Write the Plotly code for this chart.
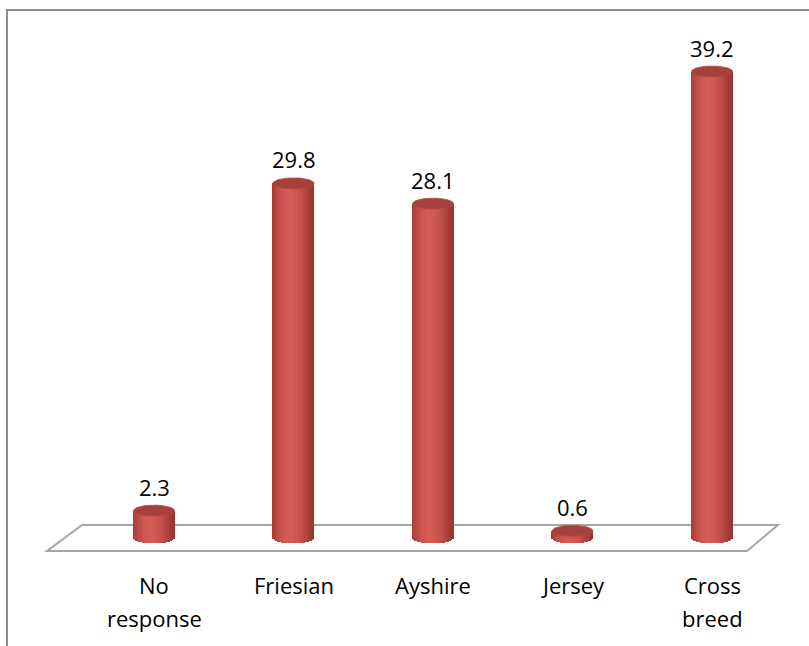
import numpy as np
import plotly.graph_objects as go

# Breed shares (%)
categories = ["No response", "Friesian", "Ayshire", "Jersey", "Cross breed"]
label_lines = [["No", "response"], ["Friesian"], ["Ayshire"], ["Jersey"], ["Cross", "breed"]]
values = [2.3, 29.8, 28.1, 0.6, 39.2]

W, H = 809, 646
X_RANGE = [-1.104, 4.695]
Y_RANGE = [-9.076, 45.21]
px_x = W / (X_RANGE[1] - X_RANGE[0])
px_y = H / (Y_RANGE[1] - Y_RANGE[0])

RX = 20.5 / px_x          # cylinder half-width in x units
RY = 5.5 / px_y           # ellipse half-height in y units
N_STRIPS = 32

xs = np.arange(len(values), dtype=float)
vals = np.array(values, dtype=float)


def shade(u):
    # horizontal shading across the cylinder face, u in [-1, 1]
    dark_l = np.array([168, 58, 55])
    light = np.array([212, 92, 86])
    dark_r = np.array([150, 50, 47])
    peak = -0.15
    if u < peak:
        t = (u + 1) / (peak + 1)
        t = np.sin(t * np.pi / 2)
        c = dark_l + (light - dark_l) * t
    else:
        t = (u - peak) / (1 - peak)
        t = t ** 1.6
        c = light + (dark_r - light) * t
    return "rgb(%d,%d,%d)" % tuple(int(round(v)) for v in c)


fig = go.Figure()

# cylinder bodies built from thin vertical strips with an elliptical bottom
step = 2 * RX / N_STRIPS
for i in range(N_STRIPS):
    u = -1 + (i + 0.5) * 2 / N_STRIPS
    drop = RY * np.sqrt(max(0.0, 1 - u * u))
    fig.add_trace(go.Bar(
        x=xs, y=vals + drop, base=[-drop] * len(vals),
        offset=-RX + i * step - step * 0.15, width=step * 1.3,
        marker=dict(color=shade(u), line=dict(width=0)),
        hoverinfo="skip", showlegend=False,
    ))

# top faces
t = np.linspace(0, 2 * np.pi, 80)
for xc, v in zip(xs, vals):
    fig.add_trace(go.Scatter(
        x=xc + RX * np.cos(t), y=v + RY * np.sin(t),
        mode="lines", fill="toself", fillcolor="rgb(166,64,60)",
        line=dict(color="rgb(180,72,68)", width=0.8),
        hoverinfo="skip", showlegend=False,
    ))

FONT = "'Open Sans', 'Noto Sans', sans-serif"
annotations = []
for xc, v in zip(xs, vals):
    annotations.append(dict(
        x=xc, y=v, xref="x", yref="y", text=f"{v:.1f}", showarrow=False,
        yshift=24, font=dict(family=FONT, size=22, color="#000000"),
    ))
for xc, lines in zip(xs, label_lines):
    for j, line in enumerate(lines):
        annotations.append(dict(
            x=xc, y=1 - (585 + 33 * j) / H, xref="x", yref="paper",
            text=line, showarrow=False, yanchor="middle",
            font=dict(family=FONT, size=22, color="#000000"),
        ))


def paper(x, y):
    return x / W, 1 - y / H


floor = [paper(82, 525), paper(778, 525), paper(747, 551), paper(47, 551)]
floor_path = "M " + " L ".join(f"{a:.5f},{b:.5f}" for a, b in floor) + " Z"
f0 = paper(7, H)
f1 = paper(7, 10)
f2 = paper(W, 10)
frame_path = f"M {f0[0]:.5f},{f0[1]:.5f} L {f1[0]:.5f},{f1[1]:.5f} L {f2[0]:.5f},{f2[1]:.5f}"

fig.update_layout(
    width=W, height=H,
    margin=dict(l=0, r=0, t=0, b=0),
    paper_bgcolor="white", plot_bgcolor="white",
    barmode="overlay", bargap=0,
    xaxis=dict(range=X_RANGE, visible=False, fixedrange=True),
    yaxis=dict(range=Y_RANGE, visible=False, fixedrange=True),
    annotations=annotations,
    shapes=[
        dict(type="path", path=floor_path, xref="paper", yref="paper",
             line=dict(color="#a6a6a6", width=2), fillcolor="rgba(0,0,0,0)", layer="below"),
        dict(type="path", path=frame_path, xref="paper", yref="paper",
             line=dict(color="#8c8c8c", width=2), layer="above"),
    ],
)

fig.write_html("out.html")
